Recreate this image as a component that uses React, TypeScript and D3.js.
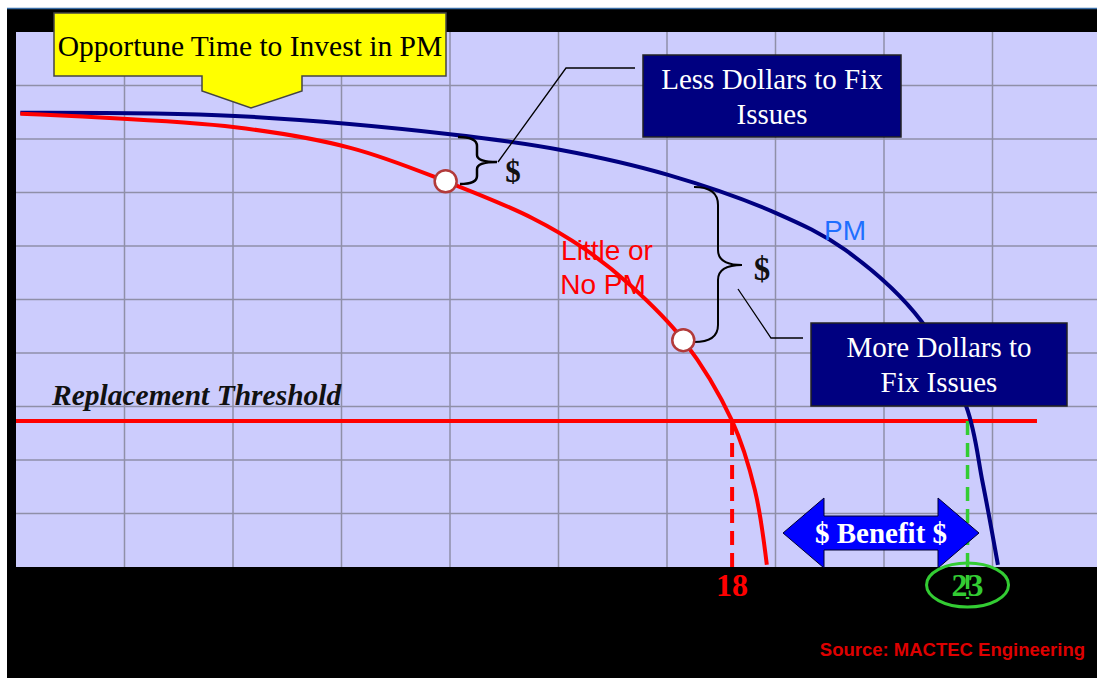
import { useEffect, useRef } from "react";
import * as d3 from "d3";

// grid units: 10 columns x 10 rows across the plot area
const gridX = d3.range(0, 11);
const gridY = d3.range(0, 11);

// curve points (grid units)
const pmX = [0.04, 2.02, 4.0, 5.01, 6.01, 7.0, 7.64, 8.35, 8.76, 8.91, 9.05];
const pmY = [8.49, 8.43, 8.09, 7.8, 7.33, 6.62, 5.93, 4.58, 2.99, 1.57, 0.04];
const noPmX = [0.04, 2.02, 3.09, 3.96, 4.76, 5.23, 5.66, 6.15, 6.6, 6.81, 6.92];
const noPmY = [8.47, 8.22, 7.83, 7.21, 6.52, 5.96, 5.27, 4.24, 2.73, 1.44, 0.04];

const markerIdx = [3, 7]; // points on the red curve with circles
const threshold = 2.73;
const thresholdEnd = 9.41;
const failLabels = ["18", "23"];
const failX = [6.6, 8.77];

export default function App() {
  const ref = useRef<HTMLDivElement>(null);

  useEffect(() => {
    if (!ref.current) return;
    d3.select(ref.current).selectAll("*").remove();

    const W = 1097;
    const H = 678;
    const plot = { left: 16, right: 1101, top: 32, bottom: 567 };

    const svg = d3
      .select(ref.current)
      .append("svg")
      .attr("width", W)
      .attr("height", H)
      .style("position", "absolute")
      .style("left", "0px")
      .style("top", "0px");

    const x = d3.scaleLinear().domain([0, 10]).range([plot.left, plot.right]);
    const y = d3.scaleLinear().domain([0, 10]).range([plot.bottom, plot.top]);

    // background
    svg.append("rect").attr("width", W).attr("height", H).attr("fill", "#fff");
    svg.append("rect").attr("x", 7).attr("y", 9).attr("width", W - 7).attr("height", H - 9).attr("fill", "#000");
    svg.append("line").attr("x1", 7).attr("x2", W).attr("y1", 8.5).attr("y2", 8.5).attr("stroke", "#3b6fa8").attr("stroke-width", 1.5);

    svg
      .append("rect")
      .attr("x", plot.left)
      .attr("y", plot.top)
      .attr("width", W - plot.left)
      .attr("height", plot.bottom - plot.top)
      .attr("fill", "#ccccfd");

    // grid
    const grid = svg.append("g").attr("stroke", "#8f8fa8").attr("stroke-width", 1.5);
    grid
      .selectAll("line.v")
      .data(gridX.slice(1))
      .enter()
      .append("line")
      .attr("x1", (d) => x(d))
      .attr("x2", (d) => x(d))
      .attr("y1", plot.top)
      .attr("y2", plot.bottom);
    grid
      .selectAll("line.h")
      .data(gridY.slice(1, 10))
      .enter()
      .append("line")
      .attr("x1", plot.left)
      .attr("x2", W)
      .attr("y1", (d) => y(d))
      .attr("y2", (d) => y(d));

    // threshold
    svg
      .append("line")
      .attr("x1", x(0))
      .attr("x2", x(thresholdEnd))
      .attr("y1", y(threshold))
      .attr("y2", y(threshold))
      .attr("stroke", "#ff0000")
      .attr("stroke-width", 4);

    svg
      .append("text")
      .attr("x", 52)
      .attr("y", 405)
      .attr("font-family", "Liberation Serif")
      .attr("font-weight", "bold")
      .attr("font-style", "italic")
      .attr("font-size", 29.5)
      .attr("fill", "#111")
      .text("Replacement Threshold");

    // drop lines
    svg
      .append("line")
      .attr("x1", x(failX[0]))
      .attr("x2", x(failX[0]))
      .attr("y1", y(threshold))
      .attr("y2", y(0))
      .attr("stroke", "#ff0000")
      .attr("stroke-width", 4)
      .attr("stroke-dasharray", "14,8");
    svg
      .append("line")
      .attr("x1", x(failX[1]))
      .attr("x2", x(failX[1]))
      .attr("y1", y(threshold))
      .attr("y2", y(0) + 32)
      .attr("stroke", "#33cc33")
      .attr("stroke-width", 3.5)
      .attr("stroke-dasharray", "14,8");

    // benefit arrow
    const ax0 = 783;
    const ax1 = 979;
    const ay = 533;
    const head = 41;
    const arrow = [
      [ax0, ay],
      [ax0 + head, ay - 35],
      [ax0 + head, ay - 17],
      [ax1 - head, ay - 17],
      [ax1 - head, ay - 35],
      [ax1, ay],
      [ax1 - head, ay + 35],
      [ax1 - head, ay + 17],
      [ax0 + head, ay + 17],
      [ax0 + head, ay + 35],
    ];
    svg
      .append("polygon")
      .attr("points", arrow.map((p) => p.join(",")).join(" "))
      .attr("fill", "#0000ff")
      .attr("stroke", "#000033")
      .attr("stroke-width", 1);
    svg
      .append("text")
      .attr("x", (ax0 + ax1) / 2)
      .attr("y", ay + 10)
      .attr("text-anchor", "middle")
      .attr("font-family", "Liberation Serif")
      .attr("font-weight", "bold")
      .attr("font-size", 29)
      .attr("fill", "#fff")
      .text("$ Benefit $");

    // curves
    const line = d3
      .line<[number, number]>()
      .x((d) => x(d[0]))
      .y((d) => y(d[1]))
      .curve(d3.curveCatmullRom.alpha(0.5));

    const pm = pmX.map((v, i) => [v, pmY[i]] as [number, number]);
    const noPm = noPmX.map((v, i) => [v, noPmY[i]] as [number, number]);

    svg
      .append("path")
      .attr("d", line(pm))
      .attr("fill", "none")
      .attr("stroke", "#000080")
      .attr("stroke-width", 4);
    svg
      .append("path")
      .attr("d", line(noPm))
      .attr("fill", "none")
      .attr("stroke", "#ff0000")
      .attr("stroke-width", 4);

    // braces and leader lines
    const ink = svg.append("g").attr("fill", "none").attr("stroke", "#000");
    ink
      .append("path")
      .attr("d", "M458,137 Q477,137 477,146 L477,155 Q477,162 497,162 Q477,162 477,169 L477,176 Q477,184 460,184")
      .attr("stroke-width", 2.5);
    ink
      .append("path")
      .attr("d", "M694,187 Q718,187 718,205 L718,250 Q718,265 742,265 Q718,265 718,280 L718,325 Q718,342 694,342")
      .attr("stroke-width", 2);
    ink.append("path").attr("d", "M635,68 L566,68 L498,162").attr("stroke-width", 1.3);
    ink.append("path").attr("d", "M738,289 L771,338 L803,338").attr("stroke-width", 1.3);

    svg
      .selectAll("text.dollar")
      .data([
        [513, 182, 31],
        [762, 280, 33],
      ])
      .enter()
      .append("text")
      .attr("x", (d) => d[0])
      .attr("y", (d) => d[1])
      .attr("text-anchor", "middle")
      .attr("font-family", "Liberation Serif")
      .attr("font-weight", "bold")
      .attr("font-size", (d) => d[2])
      .attr("fill", "#111")
      .text("$");

    // markers
    svg
      .selectAll("circle.mk")
      .data(markerIdx)
      .enter()
      .append("circle")
      .attr("cx", (i) => x(noPmX[i]))
      .attr("cy", (i) => y(noPmY[i]))
      .attr("r", 11)
      .attr("fill", "#fff")
      .attr("stroke", "#b23a3a")
      .attr("stroke-width", 2.5);

    // series labels
    svg
      .append("text")
      .attr("x", 845)
      .attr("y", 240)
      .attr("text-anchor", "middle")
      .attr("font-family", "Liberation Sans")
      .attr("font-size", 28)
      .attr("fill", "#1f6fff")
      .text("PM");
    const lbl = svg
      .append("text")
      .attr("font-family", "Liberation Sans")
      .attr("font-size", 28)
      .attr("fill", "#ff0000")
      .attr("text-anchor", "middle");
    lbl.append("tspan").attr("x", 607).attr("y", 260).text("Little or");
    lbl.append("tspan").attr("x", 603).attr("y", 294).text("No PM");

    // callout boxes
    const boxes = [
      { x: 643, y: 55, w: 258, h: 82, lines: ["Less Dollars to Fix", "Issues"] },
      { x: 811, y: 323, w: 256, h: 83, lines: ["More Dollars to", "Fix Issues"] },
    ];
    boxes.forEach((b) => {
      svg
        .append("rect")
        .attr("x", b.x)
        .attr("y", b.y)
        .attr("width", b.w)
        .attr("height", b.h)
        .attr("fill", "#000080")
        .attr("stroke", "#222")
        .attr("stroke-width", 1.5);
      b.lines.forEach((t, i) => {
        svg
          .append("text")
          .attr("x", b.x + b.w / 2)
          .attr("y", b.y + 34 + i * 35)
          .attr("text-anchor", "middle")
          .attr("font-family", "Liberation Serif")
          .attr("font-size", 29)
          .attr("fill", "#fff")
          .text(t);
      });
    });

    // yellow callout
    svg
      .append("path")
      .attr("d", "M54,13 L446,13 L446,76 L302,76 L302,91 L251,108 L202,91 L202,76 L54,76 Z")
      .attr("fill", "#ffff00")
      .attr("stroke", "#444")
      .attr("stroke-width", 1.5);
    svg
      .append("text")
      .attr("x", 250)
      .attr("y", 56)
      .attr("text-anchor", "middle")
      .attr("font-family", "Liberation Serif")
      .attr("font-size", 29.5)
      .attr("fill", "#000")
      .text("Opportune Time to Invest in PM");

    // failure year labels
    svg
      .append("ellipse")
      .attr("cx", x(failX[1]))
      .attr("cy", 585)
      .attr("rx", 41)
      .attr("ry", 22)
      .attr("fill", "none")
      .attr("stroke", "#33cc33")
      .attr("stroke-width", 3);
    svg
      .selectAll("text.fail")
      .data(failLabels)
      .enter()
      .append("text")
      .attr("x", (_d, i) => x(failX[i]))
      .attr("y", 596)
      .attr("text-anchor", "middle")
      .attr("font-family", "Liberation Serif")
      .attr("font-weight", "bold")
      .attr("font-size", 32)
      .attr("fill", (_d, i) => (i === 0 ? "#ff0000" : "#33cc33"))
      .text((d) => d);

    svg
      .append("text")
      .attr("x", 1085)
      .attr("y", 656)
      .attr("text-anchor", "end")
      .attr("font-family", "Liberation Sans")
      .attr("font-weight", "bold")
      .attr("font-size", 18.5)
      .attr("fill", "#dd0000")
      .text("Source:  MACTEC Engineering");
  }, []);

  return <div ref={ref} />;
}
